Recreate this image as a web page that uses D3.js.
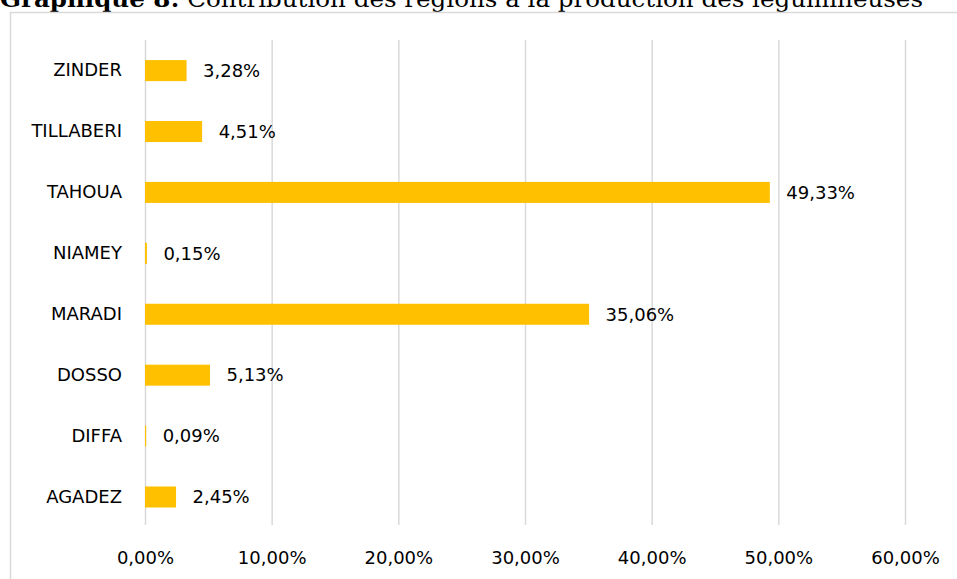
<!DOCTYPE html>
<html>
<head>
<meta charset="utf-8">
<script src="https://cdn.jsdelivr.net/npm/d3@7"></script>
<style>
  body { margin: 0; background: #fff; }
  svg { display: block; }
</style>
</head>
<body>
<div id="chart"></div>
<script>
(function(){
// Regions, top to bottom as shown
const regions = ['ZINDER', 'TILLABERI', 'TAHOUA', 'NIAMEY', 'MARADI', 'DOSSO', 'DIFFA', 'AGADEZ'];
const shares = [3.28, 4.51, 49.33, 0.15, 35.06, 5.13, 0.09, 2.45];
const xTicks = [0, 10, 20, 30, 40, 50, 60];

const width = 957, height = 579;
const fr = d3.formatLocale({decimal: ',', thousands: ' ', grouping: [3], currency: ['', '€']});
const pct = v => fr.format('.2f')(v) + '%';

const svg = d3.select('#chart')
  .append('svg')
  .attr('width', width)
  .attr('height', height);

// Title (cut at top like the source)
const title = svg.append('text')
  .attr('x', 0)
  .attr('y', 7)
  .attr('textLength', 923)
  .attr('lengthAdjust', 'spacingAndGlyphs')
  .style('font-family', '"DejaVu Serif", "Liberation Serif", serif')
  .style('font-size', '22px')
  .style('fill', '#000');
title.append('tspan').style('font-weight', 'bold').text('Graphique 8:');
title.append('tspan').text(' Contribution des régions à la production des légumineuses');

// Chart frame
svg.append('path')
  .attr('d', `M10.5,${height + 2}V12.5H${width + 2}`)
  .attr('fill', 'none')
  .attr('stroke', '#d9d9d9')
  .attr('stroke-width', 1.5);

const x = d3.scaleLinear().domain([0, 60]).range([145, 905]);
const y = d3.scaleBand().domain(regions).range([40, 527.6]).paddingInner(0.655).paddingOuter(0.33);

// Gridlines
svg.append('g')
  .attr('transform', 'translate(0,525)')
  .call(d3.axisBottom(x).tickValues(xTicks).tickSize(-485).tickFormat(''))
  .call(g => g.select('.domain').remove())
  .call(g => g.selectAll('line').attr('stroke', '#d9d9d9').attr('stroke-width', 1.5));

// X labels
svg.append('g')
  .attr('transform', 'translate(0,548)')
  .call(d3.axisBottom(x).tickValues(xTicks).tickSize(0).tickFormat(pct))
  .call(g => g.select('.domain').remove())
  .call(g => g.selectAll('text')
    .style('font-family', '"DejaVu Sans", sans-serif')
    .style('font-size', '18px')
    .style('fill', '#000'));

// Y labels
svg.append('g')
  .attr('transform', 'translate(124,0)')
  .call(d3.axisLeft(y).tickSize(0).tickPadding(2))
  .call(g => g.select('.domain').remove())
  .call(g => g.selectAll('text')
    .style('font-family', '"DejaVu Sans", sans-serif')
    .style('font-size', '18px')
    .style('fill', '#000'));

const data = regions.map((r, i) => ({region: r, value: shares[i]}));

svg.append('g').selectAll('rect')
  .data(data)
  .enter()
  .append('rect')
  .attr('x', x(0))
  .attr('y', d => y(d.region))
  .attr('width', d => x(d.value) - x(0))
  .attr('height', y.bandwidth())
  .attr('fill', '#ffc000');

svg.append('g').selectAll('text')
  .data(data)
  .enter()
  .append('text')
  .attr('x', d => x(d.value) + 16.5)
  .attr('y', d => y(d.region) + y.bandwidth() / 2)
  .attr('dy', '.35em')
  .style('font-family', '"DejaVu Sans", sans-serif')
  .style('font-size', '18px')
  .style('fill', '#000')
  .text(d => pct(d.value));
})();
</script>
</body>
</html>
